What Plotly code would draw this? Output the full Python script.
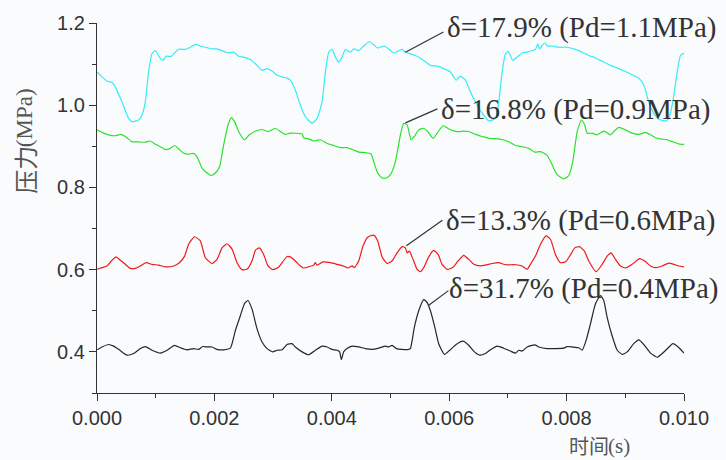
import plotly.graph_objects as go

# ---- time axis values are in milliseconds, pressures in MPa ----
cyan_t = [0.000, 0.085, 0.170, 0.256, 0.312, 0.426, 0.539, 0.596, 0.709, 0.767, 0.823, 0.879, 0.937, 0.994,
          1.062, 1.125, 1.176, 1.266, 1.334, 1.391, 1.505, 1.590, 1.675, 1.760, 1.875, 1.960, 2.045, 2.157,
          2.243, 2.328, 2.413, 2.498, 2.612, 2.698, 2.812, 2.897, 2.982, 3.067, 3.153, 3.238, 3.294, 3.379,
          3.465, 3.550, 3.664, 3.749, 3.834, 3.891, 3.947, 4.005, 4.061, 4.117, 4.175, 4.231, 4.317, 4.373,
          4.458, 4.543, 4.640, 4.714, 4.782, 4.884, 4.969, 5.055, 5.123, 5.198, 5.254, 5.339, 5.453, 5.566,
          5.680, 5.794, 5.907, 6.021, 6.118, 6.191, 6.276, 6.362, 6.476, 6.588, 6.673, 6.788, 6.844, 6.902,
          6.958, 7.004, 7.043, 7.082, 7.157, 7.243, 7.328, 7.413, 7.469, 7.509, 7.538, 7.583, 7.628, 7.669,
          7.754, 7.866, 8.009, 8.151, 8.265, 8.378, 8.492, 8.633, 8.748, 8.889, 9.003, 9.117, 9.230, 9.315,
          9.400, 9.485, 9.571, 9.685, 9.741, 9.809, 9.884, 9.940, 10.000]
cyan_p = [1.081, 1.069, 1.059, 1.055, 1.044, 1.008, 0.968, 0.960, 0.964, 0.976, 1.008, 1.081, 1.125, 1.133,
          1.117, 1.109, 1.119, 1.119, 1.129, 1.136, 1.136, 1.141, 1.148, 1.144, 1.140, 1.137, 1.137, 1.131,
          1.127, 1.129, 1.119, 1.117, 1.111, 1.101, 1.085, 1.089, 1.083, 1.073, 1.069, 1.066, 1.061, 1.037,
          1.000, 0.972, 0.956, 0.968, 1.008, 1.081, 1.129, 1.136, 1.117, 1.105, 1.117, 1.136, 1.129, 1.137,
          1.133, 1.144, 1.155, 1.147, 1.139, 1.144, 1.137, 1.127, 1.131, 1.136, 1.129, 1.125, 1.119, 1.109,
          1.097, 1.095, 1.089, 1.081, 1.061, 1.071, 1.061, 1.032, 1.000, 0.976, 0.962, 0.968, 1.008, 1.081,
          1.125, 1.131, 1.121, 1.109, 1.117, 1.127, 1.129, 1.133, 1.136, 1.149, 1.137, 1.145, 1.152, 1.144,
          1.144, 1.141, 1.141, 1.136, 1.129, 1.121, 1.115, 1.105, 1.097, 1.089, 1.082, 1.074, 1.066, 1.049,
          1.008, 0.980, 0.966, 0.962, 0.968, 1.008, 1.081, 1.121, 1.127]

green_t = [0.000, 0.085, 0.170, 0.256, 0.324, 0.397, 0.482, 0.596, 0.709, 0.823, 0.908, 0.994, 1.079, 1.176,
           1.249, 1.322, 1.391, 1.476, 1.561, 1.646, 1.704, 1.789, 1.875, 1.943, 2.016, 2.089, 2.157, 2.232,
           2.289, 2.345, 2.413, 2.510, 2.595, 2.686, 2.812, 2.914, 3.039, 3.124, 3.209, 3.294, 3.494, 3.521,
           3.606, 3.691, 3.805, 3.920, 4.032, 4.146, 4.260, 4.373, 4.458, 4.572, 4.669, 4.714, 4.782, 4.857,
           4.930, 4.998, 5.083, 5.169, 5.225, 5.283, 5.351, 5.407, 5.481, 5.556, 5.634, 5.726, 5.794, 5.896,
           6.009, 6.135, 6.247, 6.333, 6.447, 6.561, 6.691, 6.844, 7.014, 7.128, 7.243, 7.355, 7.457, 7.555,
           7.669, 7.754, 7.839, 7.952, 8.037, 8.105, 8.180, 8.253, 8.309, 8.350, 8.436, 8.521, 8.633, 8.748,
           8.804, 8.889, 9.003, 9.117, 9.230, 9.344, 9.429, 9.514, 9.599, 9.714, 9.826, 9.940, 10.000]
green_p = [0.940, 0.934, 0.929, 0.926, 0.926, 0.929, 0.924, 0.911, 0.911, 0.910, 0.913, 0.905, 0.899, 0.892,
           0.895, 0.902, 0.894, 0.883, 0.881, 0.883, 0.875, 0.847, 0.835, 0.829, 0.835, 0.851, 0.903, 0.952,
           0.970, 0.960, 0.936, 0.916, 0.928, 0.936, 0.941, 0.936, 0.944, 0.936, 0.929, 0.932, 0.930, 0.921,
           0.918, 0.913, 0.916, 0.907, 0.902, 0.897, 0.897, 0.891, 0.886, 0.885, 0.881, 0.863, 0.835, 0.823,
           0.823, 0.831, 0.863, 0.928, 0.956, 0.952, 0.916, 0.924, 0.940, 0.944, 0.936, 0.919, 0.932, 0.950,
           0.941, 0.936, 0.937, 0.936, 0.929, 0.924, 0.919, 0.918, 0.911, 0.902, 0.899, 0.895, 0.886, 0.887,
           0.878, 0.855, 0.831, 0.821, 0.829, 0.863, 0.936, 0.964, 0.952, 0.932, 0.932, 0.928, 0.937, 0.928,
           0.936, 0.946, 0.940, 0.932, 0.929, 0.934, 0.928, 0.921, 0.918, 0.916, 0.910, 0.905, 0.905]

red_t = [0.000, 0.085, 0.170, 0.244, 0.324, 0.397, 0.482, 0.567, 0.653, 0.738, 0.835, 0.937, 1.050, 1.164,
         1.305, 1.403, 1.493, 1.561, 1.663, 1.760, 1.846, 1.960, 2.045, 2.130, 2.215, 2.301, 2.386, 2.471,
         2.556, 2.641, 2.698, 2.766, 2.839, 2.914, 2.993, 3.085, 3.153, 3.238, 3.294, 3.379, 3.465, 3.521,
         3.606, 3.691, 3.720, 3.749, 3.851, 3.976, 4.090, 4.202, 4.271, 4.346, 4.385, 4.458, 4.533, 4.611,
         4.714, 4.782, 4.857, 4.942, 5.027, 5.112, 5.198, 5.254, 5.283, 5.322, 5.385, 5.453, 5.510, 5.566,
         5.651, 5.736, 5.811, 5.879, 5.965, 6.060, 6.162, 6.247, 6.333, 6.418, 6.532, 6.617, 6.731, 6.844,
         6.958, 7.128, 7.243, 7.328, 7.384, 7.469, 7.555, 7.652, 7.725, 7.810, 7.895, 7.981, 8.066, 8.139,
         8.219, 8.304, 8.378, 8.504, 8.606, 8.691, 8.759, 8.833, 8.918, 9.003, 9.117, 9.242, 9.332, 9.429,
         9.514, 9.628, 9.741, 9.826, 9.911, 10.000]
red_p = [0.601, 0.605, 0.609, 0.621, 0.631, 0.623, 0.613, 0.603, 0.603, 0.609, 0.617, 0.613, 0.611, 0.607,
         0.609, 0.617, 0.633, 0.662, 0.680, 0.670, 0.629, 0.615, 0.625, 0.653, 0.663, 0.650, 0.617, 0.600,
         0.601, 0.621, 0.647, 0.653, 0.637, 0.609, 0.600, 0.605, 0.617, 0.632, 0.631, 0.621, 0.609, 0.604,
         0.607, 0.611, 0.617, 0.611, 0.619, 0.617, 0.613, 0.609, 0.604, 0.609, 0.605, 0.621, 0.658, 0.679,
         0.684, 0.670, 0.631, 0.615, 0.621, 0.641, 0.656, 0.653, 0.641, 0.645, 0.625, 0.601, 0.595, 0.605,
         0.631, 0.647, 0.637, 0.613, 0.601, 0.605, 0.623, 0.635, 0.625, 0.613, 0.609, 0.611, 0.615, 0.617,
         0.612, 0.612, 0.609, 0.601, 0.613, 0.633, 0.662, 0.682, 0.674, 0.637, 0.617, 0.619, 0.636, 0.653,
         0.656, 0.645, 0.621, 0.595, 0.613, 0.633, 0.641, 0.625, 0.609, 0.604, 0.613, 0.627, 0.621, 0.609,
         0.605, 0.609, 0.616, 0.613, 0.609, 0.607]

black_t = [0.000, 0.085, 0.198, 0.283, 0.380, 0.511, 0.624, 0.738, 0.823, 0.937, 1.079, 1.193, 1.322, 1.420,
           1.534, 1.646, 1.731, 1.800, 1.875, 1.960, 2.045, 2.157, 2.272, 2.357, 2.442, 2.515, 2.573, 2.641,
           2.727, 2.812, 2.897, 2.993, 3.067, 3.153, 3.238, 3.323, 3.379, 3.494, 3.606, 3.720, 3.834, 3.920,
           4.005, 4.090, 4.134, 4.163, 4.202, 4.260, 4.346, 4.458, 4.572, 4.686, 4.799, 4.913, 4.969, 5.027,
           5.101, 5.198, 5.310, 5.339, 5.407, 5.481, 5.566, 5.624, 5.680, 5.748, 5.821, 5.919, 6.009, 6.118,
           6.237, 6.333, 6.430, 6.520, 6.617, 6.702, 6.817, 6.929, 7.043, 7.128, 7.185, 7.243, 7.328, 7.457,
           7.526, 7.669, 7.810, 7.952, 8.009, 8.095, 8.207, 8.265, 8.333, 8.406, 8.492, 8.577, 8.633, 8.691,
           8.765, 8.862, 8.947, 9.032, 9.144, 9.230, 9.315, 9.429, 9.543, 9.628, 9.745, 9.809, 9.901, 10.000]
black_p = [0.405, 0.412, 0.418, 0.414, 0.405, 0.392, 0.396, 0.408, 0.413, 0.404, 0.397, 0.404, 0.416, 0.410,
           0.405, 0.408, 0.406, 0.413, 0.412, 0.412, 0.406, 0.405, 0.409, 0.452, 0.488, 0.518, 0.525, 0.504,
           0.456, 0.424, 0.408, 0.400, 0.404, 0.405, 0.418, 0.420, 0.412, 0.400, 0.393, 0.404, 0.414, 0.412,
           0.406, 0.404, 0.400, 0.381, 0.400, 0.408, 0.414, 0.412, 0.408, 0.406, 0.409, 0.414, 0.412, 0.416,
           0.408, 0.406, 0.406, 0.408, 0.460, 0.500, 0.527, 0.520, 0.500, 0.464, 0.420, 0.394, 0.404, 0.418,
           0.426, 0.416, 0.400, 0.392, 0.396, 0.405, 0.414, 0.409, 0.402, 0.397, 0.404, 0.402, 0.412, 0.417,
           0.412, 0.408, 0.408, 0.409, 0.413, 0.412, 0.410, 0.404, 0.428, 0.468, 0.517, 0.537, 0.525, 0.484,
           0.444, 0.404, 0.394, 0.400, 0.420, 0.429, 0.418, 0.397, 0.387, 0.396, 0.412, 0.420, 0.412, 0.397]

# label text, the point of the curve it refers to, and the label anchor (t in ms, p in MPa)
labels = ["δ=17.9% (Pd=1.1MPa)", "δ=16.8% (Pd=0.9MPa)", "δ=13.3% (Pd=0.6MPa)", "δ=31.7% (Pd=0.4MPa)"]
label_tip_t = [5.254, 5.254, 5.271, 5.646]
label_tip_p = [1.129, 0.957, 0.658, 0.513]
label_tail_t = [5.902, 5.799, 5.884, 5.987]
label_tail_p = [1.178, 0.991, 0.720, 0.549]
label_text_t = [5.93, 5.83, 5.91, 5.96]
label_text_p = [1.190, 0.990, 0.719, 0.555]

series = [
    (cyan_t, cyan_p, "#33ecf8"),
    (green_t, green_p, "#2ae22a"),
    (red_t, red_p, "#f01818"),
    (black_t, black_p, "#262626"),
]

ms = 1e-3
fig = go.Figure()
for t, p, col in series:
    fig.add_trace(go.Scatter(
        x=[v * ms for v in t], y=p, mode="lines",
        line=dict(color=col, width=1.2, shape="spline", smoothing=0.5),
        showlegend=False, hoverinfo="skip"))

serif = "Liberation Serif"
for i, txt in enumerate(labels):
    fig.add_shape(type="line", xref="x", yref="y",
                  x0=label_tail_t[i] * ms, y0=label_tail_p[i],
                  x1=label_tip_t[i] * ms, y1=label_tip_p[i],
                  line=dict(color="#333333", width=1.2))
    fig.add_annotation(x=label_text_t[i] * ms, y=label_text_p[i], xref="x", yref="y",
                       text=txt, showarrow=False, xanchor="left", yanchor="middle",
                       font=dict(family=serif, size=29, color="#333333"))

# axis titles: Chinese part and the unit part use different typefaces
cjk = "Noto Sans CJK SC"
title_col = "#555555"
fig.add_annotation(xref="paper", yref="paper", x=-0.123, y=0.603, textangle=-90,
                   text="压力", showarrow=False, xanchor="center", yanchor="middle",
                   font=dict(family=cjk, size=24, color=title_col))
fig.add_annotation(xref="paper", yref="paper", x=-0.123, y=0.745, textangle=-90,
                   text="(MPa)", showarrow=False, xanchor="center", yanchor="middle",
                   font=dict(family=serif, size=23, color=title_col))
fig.add_annotation(xref="paper", yref="paper", x=0.8705, y=-0.142, xshift=3,
                   text="时间", showarrow=False, xanchor="right", yanchor="middle",
                   font=dict(family=cjk, size=20, color=title_col))
fig.add_annotation(xref="paper", yref="paper", x=0.8705, y=-0.142, xshift=-2,
                   text="(s)", showarrow=False, xanchor="left", yanchor="middle",
                   font=dict(family=serif, size=21, color=title_col))

axis_common = dict(
    showline=True, linecolor="#333333", linewidth=1.3, mirror=False,
    showgrid=False, zeroline=False, ticks="outside", ticklen=7, tickwidth=1.3,
    tickcolor="#333333", tickfont=dict(family="Liberation Sans", size=20, color="#333333"),
)
fig.update_xaxes(range=[0, 0.010], tick0=0, dtick=0.002, tickformat=".3f",
                 minor=dict(dtick=0.001, ticks="outside", ticklen=4, tickwidth=1.3, tickcolor="#333333"),
                 **axis_common)
fig.update_yaxes(range=[0.3, 1.2], tick0=0, dtick=0.2, tickformat=".1f",
                 minor=dict(dtick=0.1, ticks="outside", ticklen=4, tickwidth=1.3, tickcolor="#333333"),
                 **axis_common)

fig.update_layout(
    width=726, height=460,
    margin=dict(l=97, r=42, t=21, b=67),
    paper_bgcolor="#fafbfd", plot_bgcolor="#fafbfd",
)

fig.write_html("out.html")
